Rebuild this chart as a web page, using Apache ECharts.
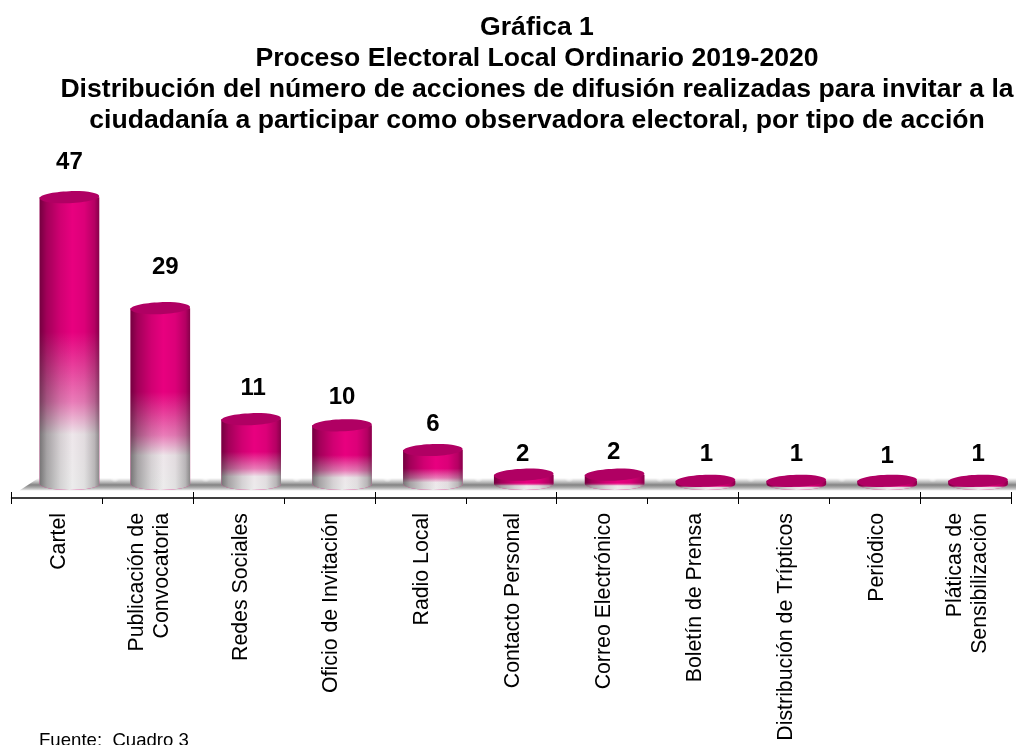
<!DOCTYPE html>
<html><head><meta charset="utf-8">
<script src="https://cdn.jsdelivr.net/npm/echarts@6/dist/echarts.min.js"></script>
<style>html,body{margin:0;padding:0;background:#fff;overflow:hidden}#c{width:1016px;height:745px}</style></head>
<body><div id="c"></div>
<script>
var categories=["Cartel","Publicación de\nConvocatoria","Redes Sociales","Oficio de Invitación","Radio Local","Contacto Personal","Correo Electrónico","Boletín de Prensa","Distribución de Trípticos","Periódico","Pláticas de\nSensibilización"];
var values=[47,29,11,10,6,2,2,1,1,1,1];
var titleLines="Gráfica 1\nProceso Electoral Local Ordinario 2019-2020\nDistribución del número de acciones de difusión realizadas para invitar a la\nciudadanía a participar como observadora electoral, por tipo de acción";
var sourceNote='Fuente:  Cuadro 3';
// hand-placed label nudges in the original
var labelLift=[35,41,31,28,26,20,22,26,26,24,26];
var labelShift=[0,5,2,0,0,-1,-1,1,0,0,0];

var chart=echarts.init(document.getElementById('c'),null,{renderer:'canvas'});
var F='"Liberation Sans",Arial,sans-serif';
var DEPTH=12.5; // bars sit to the right of the category centre (3D look)
var RY=6;
function cyl(params,api){
 var i=api.value(0),v=api.value(1);
 var top=api.coord([i,v]),base=api.coord([i,0]);
 var bw=api.size([1,0])[0]*0.656,cx=top[0]+DEPTH,rx=bw/2,x=cx-rx;
 var by=base[1]-3;
 var short=(by+RY-top[1])<30;
 var s0=short?.55:.46,s1=short?.72:.81;
 var body='M'+x+' '+top[1]+' L'+x+' '+by+' A'+rx+' '+RY+' 0 0 0 '+(x+bw)+' '+by+' L'+(x+bw)+' '+top[1]+' Z';
 return {type:'group',children:[
  {type:'path',shape:{pathData:body},style:{fill:'#e8007f'}},
  {type:'path',shape:{pathData:body},style:{fill:{type:'linear',x:0,y:0,x2:0,y2:1,colorStops:[
    {offset:0,color:'rgba(236,236,236,0)'},{offset:s0,color:'rgba(236,236,236,0)'},
    {offset:s0+(s1-s0)*.68,color:'rgba(236,226,232,.55)'},{offset:s1,color:'rgba(238,238,238,.97)'},{offset:1,color:'rgba(236,236,236,1)'}]}}},
  {type:'path',shape:{pathData:body},style:{fill:{type:'linear',x:0,y:0,x2:1,y2:0,colorStops:[
    {offset:0,color:'rgba(0,0,0,.5)'},{offset:.12,color:'rgba(0,0,0,.3)'},{offset:.35,color:'rgba(0,0,0,.1)'},{offset:.55,color:'rgba(0,0,0,0)'},
    {offset:.75,color:'rgba(0,0,0,.05)'},{offset:.92,color:'rgba(0,0,0,.22)'},{offset:1,color:'rgba(0,0,0,.42)'}]}}},
  {type:'ellipse',shape:{cx:cx,cy:top[1],rx:rx,ry:RY},rotation:0.035,originX:cx,originY:top[1],
   style:{fill:'#b00063'}}
 ]};
}
function floorShadow(params,api){
 var a=api.coord([0,0]),b=api.coord([10,0]);
 var band=api.size([1,0])[0];
 var left=a[0]-band/2,right=b[0]+band/2+8,y=a[1];
 var kids=[{type:'polygon',shape:{points:[[left+8,y+3.5],[left+27,y-9],[right,y-9],[right,y+3.5]]},
  style:{fill:{type:'linear',x:0,y:0,x2:0,y2:1,colorStops:[
   {offset:0,color:'rgba(150,150,150,0)'},{offset:.25,color:'rgba(130,130,130,.4)'},{offset:.55,color:'rgba(110,110,110,.85)'},{offset:.8,color:'rgba(170,170,170,.9)'},{offset:1,color:'rgba(235,235,235,.9)'}]}}}];
 for(var i=0;i<values.length;i++){
  var c=api.coord([i,0]);
  kids.push({type:'rect',shape:{x:c[0]+DEPTH+band/2-12,y:y-10,width:24,height:8},
   style:{fill:{type:'radial',x:.5,y:.1,r:.6,colorStops:[{offset:0,color:'rgba(255,255,255,.8)'},{offset:1,color:'rgba(255,255,255,0)'}]}}});
 }
 return {type:'group',silent:true,children:kids};
}
function valueText(params,api){
 var i=api.value(0),v=api.value(1),p=api.coord([i,v]);
 return {type:'text',x:p[0]+DEPTH+labelShift[i],y:p[1]-labelLift[i],
  style:{text:String(v),fill:'#000',font:'bold 24px '+F,align:'center',verticalAlign:'middle'}};
}
var pts=values.map(function(v,i){return [i,v];});
chart.setOption({
 animation:false,backgroundColor:'#fff',
 title:{text:titleLines,left:532,textAlign:'center',top:7,textStyle:{fontFamily:F,fontSize:26.6,fontWeight:'bold',color:'#000',lineHeight:31}},
 graphic:[{type:'text',left:39,top:731,style:{text:sourceNote,font:'18.6px '+F,fill:'#000'}}],
 grid:{left:11.5,right:5,top:117,bottom:258},
 xAxis:[
  {type:'category',data:categories,offset:11,
   axisLine:{onZero:false,lineStyle:{color:'#000',width:1.5}},
   axisTick:{show:true,length:6,lineStyle:{color:'#000',width:1}},
   axisLabel:{rotate:90,interval:0,fontFamily:F,fontSize:21.3,color:'#000',margin:15,lineHeight:25,align:'right',verticalAlign:'middle',padding:[4,0,0,0],
    formatter:function(v){return v.split('\n').map(function(l){return '{t|'+l+'}';}).join('\n');},
    rich:{t:{fontFamily:F,fontSize:21.3,color:'#000',lineHeight:25}}}},
  {type:'category',data:categories,offset:11,position:'bottom',
   axisLine:{show:false,onZero:false},
   axisTick:{show:true,inside:true,length:6,lineStyle:{color:'#000',width:1}},
   axisLabel:{show:false}}
 ],
 yAxis:{type:'value',min:0,max:60,show:false,splitLine:{show:false}},
 series:[
  {type:'custom',data:[[0,0]],renderItem:floorShadow,silent:true,z:1,clip:false},
  {type:'custom',data:pts,renderItem:cyl,z:2,clip:false},
  {type:'custom',data:pts,renderItem:valueText,z:3,clip:false,silent:true}
 ]
});
</script></body></html>
